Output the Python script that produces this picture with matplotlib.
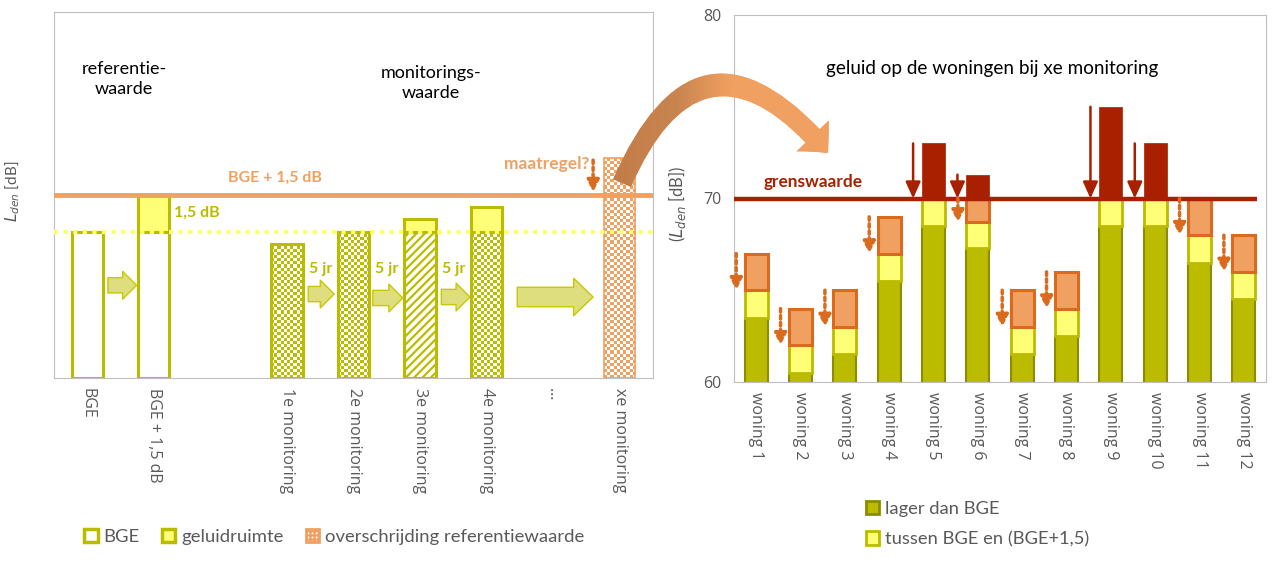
import matplotlib
matplotlib.use('Agg')
import matplotlib.pyplot as plt
import numpy as np
from matplotlib.patches import Patch, FancyArrowPatch
from matplotlib.colors import ListedColormap, LinearSegmentedColormap

plt.rcParams['font.family'] = ['Lato', 'DejaVu Sans']
plt.rcParams['hatch.linewidth'] = 1.6

# ---- data: left panel (schematic) ----
ref_labels = ["BGE", "BGE + 1,5 dB", "", "1e monitoring", "2e monitoring",
              "3e monitoring", "4e monitoring", "\u2026", "xe monitoring"]
bge = 60.0          # referentiewaarde
ruimte = 1.5        # geluidruimte
mon_idx = [3, 4, 5, 6]
mon_vals = [59.5, 60.0, 60.5, 61.0]
mon_style = ['checker', 'checker', 'hatch', 'checker']
xe_idx = 8
xe_val = 63.0

# ---- data: right panel (woningen) ----
woningen = ['woning %d' % i for i in range(1, 13)]
lager = [63.5, 60.5, 61.5, 65.5, 68.5, 67.3, 61.5, 62.5, 68.5, 68.5, 66.5, 64.5]
tussen = [1.5, 1.5, 1.5, 1.5, 1.5, 1.4, 1.5, 1.5, 1.5, 1.5, 1.5, 1.5]
overschr = [2.0, 2.0, 2.0, 2.0, 0, 1.3, 2.0, 2.0, 0, 0, 2.0, 2.0]
boven = [0, 0, 0, 0, 3.0, 1.3, 0, 0, 5.0, 3.0, 0, 0]
grenswaarde = 70

# colours
olive = '#BBBB00'
olive_dark = '#8C8C00'
yellow = '#FFFF77'
orange = '#F0A060'
orange_dark = '#D96A1E'
red = '#A82000'
gray = '#595959'
spine = '#BFBFBF'
tickfont = 'Open Sans'

fig = plt.figure(figsize=(12.76, 5.66), dpi=100)
ax1 = fig.add_axes([54/1276, 1-378/566, 599/1276, 366/566])
ax2 = fig.add_axes([734/1276, 1-382/566, 532/1276, 367/566])

# ================= left panel =================
y0 = 54
w1 = 0.47
x1 = np.arange(len(ref_labels))


def checker(ax, x, top, color, edge, lw):
    nr = max(int(round((top - y0) * 8)), 1)
    nc = 10
    arr = np.add.outer(np.arange(nr), np.arange(nc)) % 2
    ax.imshow(arr, cmap=ListedColormap(['white', color]),
              extent=[x - w1/2, x + w1/2, y0, top], aspect='auto',
              interpolation='nearest', zorder=2)
    ax.bar(x, top - y0, w1, bottom=y0, facecolor='none', edgecolor=edge,
           lw=lw, zorder=3)


ax1.bar(0, bge - y0, w1, bottom=y0, facecolor='white', edgecolor=olive, lw=2.2, zorder=3)
ax1.bar(1, bge - y0, w1, bottom=y0, facecolor='white', edgecolor=olive, lw=2.2, zorder=3)
ax1.bar(1, ruimte, w1, bottom=bge, facecolor=yellow, edgecolor=olive, lw=2.2, zorder=3)
for i, v, s in zip(mon_idx, mon_vals, mon_style):
    low = min(v, bge)
    if s == 'checker':
        checker(ax1, i, low, olive, olive, 2.2)
    else:
        ax1.bar(i, low - y0, w1, bottom=y0, facecolor='white', edgecolor=olive,
                hatch='////', lw=2.2, zorder=3)
    if v > bge:
        ax1.bar(i, v - bge, w1, bottom=bge, facecolor=yellow, edgecolor=olive,
                lw=2.2, zorder=3)
checker(ax1, xe_idx, xe_val, orange, orange, 1.2)

ax1.axhline(bge + ruimte, color=orange, lw=3.5, zorder=4)
ax1.axhline(bge, color='#FFFF66', lw=3, ls=(0, (1, 1.3)), zorder=4)

# block arrows between the bars
for xs, xe, y in [(0.31, 0.74, 57.8), (3.32, 3.71, 57.44), (4.29, 4.74, 57.28), (5.32, 5.75, 57.32)]:
    ax1.add_patch(FancyArrowPatch((xs, y), (xe, y),
                  arrowstyle='simple,head_length=10,head_width=20,tail_width=11',
                  mutation_scale=1, fc='#DEDE7E', ec='#C8C800', lw=1,
                  shrinkA=0, shrinkB=0, zorder=3))
ax1.add_patch(FancyArrowPatch((6.46, 57.32), (7.6, 57.32),
              arrowstyle='simple,head_length=14,head_width=27,tail_width=14',
              mutation_scale=1, fc='#DEDE7E', ec='#C8C800', lw=1,
              shrinkA=0, shrinkB=0, zorder=3))
for i in [3, 4, 5]:
    ax1.text(i + 0.5, 58.47, '5 jr', color=olive, fontsize=11.5,
             fontweight='bold', ha='center', va='center')

ax1.text(0.55, 66.25, 'referentie-\nwaarde', fontsize=13, ha='center',
         va='center', linespacing=1.25)
ax1.text(5.16, 66.09, 'monitorings-\nwaarde', fontsize=13, ha='center',
         va='center', linespacing=1.25)
ax1.text(2.82, 62.2, 'BGE + 1,5 dB', color=orange, fontsize=11.5,
         fontweight='bold', ha='center', va='center')
ax1.text(1.65, 60.76, '1,5 dB', color=olive, fontsize=11.5,
         fontweight='bold', ha='center', va='center')
ax1.text(7.54, 62.77, 'maatregel?', color=orange, fontsize=12.5,
         fontweight='bold', ha='right', va='center')
ax1.annotate('', xy=(7.6, 61.62), xytext=(7.6, 62.93),
             arrowprops=dict(arrowstyle='-|>,head_length=0.7,head_width=0.35',
                             color=orange_dark, lw=2.5, ls=(0, (1, 1)),
                             shrinkA=0, shrinkB=0), zorder=5)

ax1.set_xlim(-0.5, len(ref_labels) - 0.5)
ax1.set_ylim(y0, 69)
ax1.set_yticks([])
ax1.set_xticks(x1, ref_labels, rotation=270, fontfamily=tickfont)
ax1.tick_params(axis='x', length=0, pad=7, colors=gray, labelsize=11.5)
ax1.set_ylabel(r'$L_{den}$ [dB]', color=gray, fontsize=11)
ax1.yaxis.set_label_coords(-0.053, 0.51)
for s in ax1.spines.values():
    s.set_color(spine)

# ================= right panel =================
x2 = np.arange(len(woningen))
w2 = 0.52
lager = np.array(lager)
tussen = np.array(tussen)
overschr = np.array(overschr)
boven = np.array(boven)
geel_top = lager + tussen

ax2.bar(x2, lager, w2, color=olive, edgecolor=olive_dark, lw=1.5, zorder=2)
ax2.bar(x2, tussen, w2, bottom=lager, color=yellow, edgecolor=olive, lw=2, zorder=2)
m = overschr > 0
ax2.bar(x2[m], overschr[m], w2, bottom=geel_top[m], color=orange,
        edgecolor=orange_dark, lw=2.2, zorder=2)
m2 = boven > 0
ax2.bar(x2[m2], boven[m2], w2, bottom=grenswaarde, color=red, edgecolor=red,
        lw=0.5, zorder=2)
ax2.plot([-0.5, 11.3], [grenswaarde, grenswaarde], color=red, lw=3.2,
         solid_capstyle='butt', zorder=4)

for i in x2[m2]:
    ax2.annotate('', xy=(i - 0.46, grenswaarde), xytext=(i - 0.46, grenswaarde + boven[i]),
                 arrowprops=dict(arrowstyle='-|>,head_length=1.0,head_width=0.45',
                                 color=red, lw=1.8, shrinkA=0, shrinkB=0), zorder=5)
for i in x2[m]:
    ax2.annotate('', xy=(i - 0.45, geel_top[i]), xytext=(i - 0.45, geel_top[i] + overschr[i]),
                 arrowprops=dict(arrowstyle='-|>,head_length=0.7,head_width=0.35',
                                 color=orange_dark, lw=2.5, ls=(0, (1, 1)),
                                 shrinkA=0, shrinkB=0), zorder=5)

ax2.text(5.32, 77.06, 'geluid op de woningen bij xe monitoring', fontsize=13.6,
         ha='center', va='center')
ax2.text(1.28, 70.9, 'grenswaarde', color=red, fontsize=12.4,
         fontweight='bold', ha='center', va='center')

ax2.set_xlim(-0.5, len(woningen) - 0.5)
ax2.set_ylim(60, 80)
ax2.set_yticks([60, 70, 80], ['60', '70', '80'], fontfamily=tickfont)
ax2.set_xticks(x2, woningen, rotation=270, fontfamily=tickfont)
ax2.tick_params(axis='both', length=0, pad=7, colors=gray, labelsize=11.5)
ax2.tick_params(axis='y', pad=9)
ax2.set_ylabel(r'($L_{den}$ [dB])', color=gray, fontsize=12)
ax2.yaxis.set_label_coords(-0.086, 0.485)
for s in ax2.spines.values():
    s.set_color(spine)

# ================= legends =================
fig.legend(handles=[Patch(facecolor='white', edgecolor=olive, lw=2.5),
                    Patch(facecolor=yellow, edgecolor=olive, lw=2.5),
                    Patch(facecolor='white', edgecolor=orange, hatch='++++', lw=2)],
           labels=['BGE', 'geluidruimte', 'overschrijding referentiewaarde'],
           loc='center', bbox_to_anchor=(334/1276, 1 - 537/566), ncol=3,
           frameon=False, fontsize=13.3, labelcolor=gray, handlelength=0.75,
           handleheight=0.75, handletextpad=0.3, columnspacing=1.2)
fig.legend(handles=[Patch(facecolor=olive, edgecolor=olive_dark, lw=2),
                    Patch(facecolor=yellow, edgecolor=olive, lw=2)],
           labels=['lager dan BGE', 'tussen BGE en (BGE+1,5)'],
           loc='upper left', bbox_to_anchor=(849/1276, 1 - 484/566),
           frameon=False, fontsize=13.2, labelcolor=gray, handlelength=0.75,
           handleheight=0.75, handletextpad=0.3, labelspacing=0.8)

# ================= curved arrow across panels =================
ov = fig.add_axes([0, 0, 1, 1], zorder=10)
ov.set_xlim(0, 1276)
ov.set_ylim(566, 0)
ov.axis('off')
ov.patch.set_alpha(0)
arc = FancyArrowPatch((622, 183), (828, 153), connectionstyle='arc3,rad=-0.8',
                      arrowstyle='simple,head_length=16.5,head_width=32,tail_width=14',
                      mutation_scale=1, fc=orange, ec='none', shrinkA=0, shrinkB=0,
                      zorder=1)
ov.add_patch(arc)
grad_cmap = LinearSegmentedColormap.from_list(
    'g', [(0, '#C07A45'), (0.3, '#C98550'), (0.5, '#F0A060'), (1, '#F0A060')])
im = ov.imshow(np.linspace(0, 1, 256)[None, :], cmap=grad_cmap,
               extent=[600, 860, 200, 60], aspect='auto', zorder=2)
im.set_clip_path(arc)
ov.set_xlim(0, 1276)
ov.set_ylim(566, 0)

fig.savefig('out.png', dpi=100)
